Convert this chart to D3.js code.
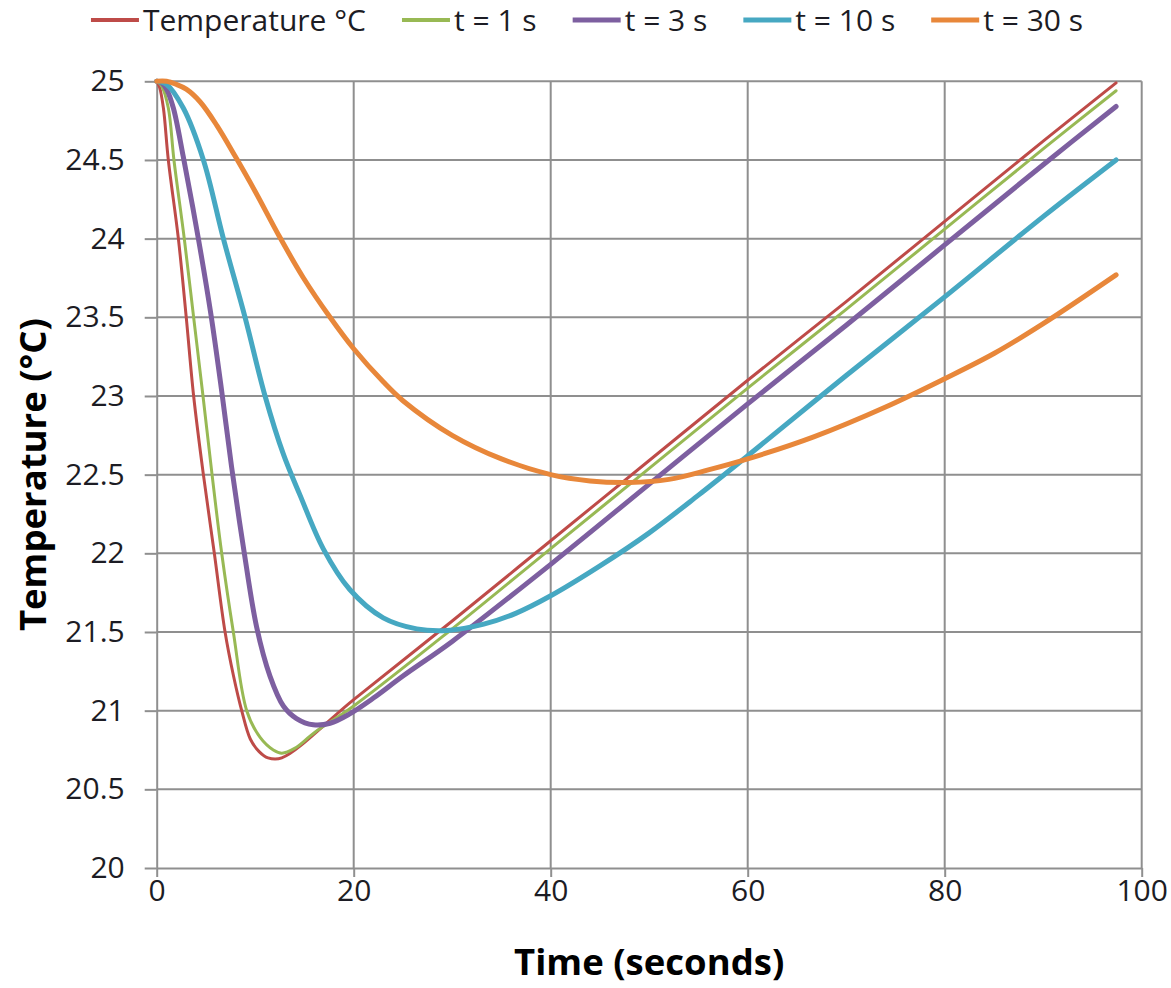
<!DOCTYPE html>
<html><head><meta charset="utf-8">
<script src="https://cdn.jsdelivr.net/npm/d3@7"></script>
<style>body{margin:0;background:#fff} svg{display:block}</style>
</head><body>
<svg id="chart" width="1171" height="988"></svg>
<script>
// ---- data ----
const seriesNames = ["Temperature °C", "t = 1 s", "t = 3 s", "t = 10 s", "t = 30 s"];
const temperature = [[0,25],[0.3,24.96],[0.68,24.83],[1.18,24.5],[2.2,24.0],[3.0,23.5],[3.75,23.0],[4.74,22.5],[5.85,22.0],[6.94,21.5],[7.8,21.22],[8.63,21.0],[9.5,20.82],[10.4,20.74],[11.3,20.7],[12.7,20.7],[20,21.07],[30,21.57],[40,22.08],[50,22.59],[60,23.1],[70,23.6],[80,24.11],[90,24.62],[97.4,24.99]];
const lag1s = [[0,25],[0.5,24.97],[1.18,24.83],[1.75,24.5],[2.8,24.0],[3.75,23.5],[4.7,23.0],[5.62,22.5],[6.6,22.0],[7.78,21.5],[9.14,21.0],[10.5,20.83],[11.84,20.75],[12.7,20.73],[14,20.76],[16,20.86],[20,21.03],[30,21.52],[40,22.03],[50,22.54],[60,23.05],[70,23.55],[80,24.06],[90,24.57],[97.4,24.94]];
const lag3s = [[0,25],[0.5,24.99],[1.0,24.95],[1.69,24.83],[2.7,24.52],[4.23,24.0],[5.5,23.52],[6.6,23.03],[7.6,22.55],[8.8,22.04],[10.15,21.53],[11.5,21.22],[12.86,21.03],[14.2,20.95],[15.9,20.91],[17.6,20.92],[19.6,20.98],[22,21.08],[25,21.22],[30,21.44],[40,21.93],[50,22.44],[60,22.95],[70,23.45],[80,23.96],[90,24.47],[97.4,24.84]];
const lag10s = [[0,25],[1,24.98],[2.7,24.83],[4.74,24.5],[6.77,24.0],[8.97,23.5],[11.0,23.0],[12.86,22.63],[14.55,22.37],[16.9,22.03],[19.6,21.77],[23,21.59],[26.4,21.52],[29.5,21.51],[33.2,21.55],[36.5,21.62],[40,21.73],[45,21.92],[50,22.13],[55,22.37],[60,22.62],[70,23.13],[80,23.63],[90,24.14],[97.4,24.5]];
const lag30s = [[0,25],[1,25],[2,24.98],[3,24.95],[4.4,24.87],[6.1,24.72],[8,24.52],[10,24.3],[12.4,24.02],[14.9,23.75],[17.6,23.5],[20,23.3],[23,23.09],[25,22.97],[30,22.75],[35,22.6],[40,22.5],[44,22.46],[48,22.45],[52,22.47],[56,22.53],[60,22.6],[66.7,22.74],[74,22.93],[80,23.11],[85,23.27],[90,23.46],[97.4,23.77]];
const xTicks = [0, 20, 40, 60, 80, 100];
const yTicks = [20, 20.5, 21, 21.5, 22, 22.5, 23, 23.5, 24, 24.5, 25];

// ---- styling ----
const seriesData = [temperature, lag1s, lag3s, lag10s, lag30s];
const colors = ["#BE4B48", "#98B954", "#7D5FA0", "#46A8C2", "#E8873A"];
const widths = [3, 3, 5, 5, 5];
const FONT = "'Open Sans', Lato, sans-serif";

const svg = d3.select("#chart");
const L = 156.7, R = 1141.7, T = 81.3, B = 868;
const x = d3.scaleLinear().domain([0, 100]).range([L, R]);
const y = d3.scaleLinear().domain([20, 25]).range([B, T]);
const grid = "#8f8f8f";

// gridlines
svg.append("g").selectAll("line").data(yTicks.filter(v => v > 20)).join("line")
  .attr("x1", L).attr("x2", R).attr("y1", d => y(d)).attr("y2", d => y(d))
  .attr("stroke", grid).attr("stroke-width", 2);
svg.append("g").selectAll("line").data(xTicks.filter(v => v > 0)).join("line")
  .attr("x1", d => x(d)).attr("x2", d => x(d)).attr("y1", T).attr("y2", B)
  .attr("stroke", grid).attr("stroke-width", 2);

// axes
const yAxis = svg.append("g").attr("transform", `translate(${L},0)`)
  .call(d3.axisLeft(y).tickValues(yTicks).tickSize(12).tickSizeOuter(0).tickPadding(20).tickFormat(d3.format("")));
const xAxis = svg.append("g").attr("transform", `translate(0,${B})`)
  .call(d3.axisBottom(x).tickValues(xTicks).tickSize(9).tickSizeOuter(0).tickPadding(3));
[yAxis, xAxis].forEach(a => {
  a.select(".domain").attr("stroke", grid).attr("stroke-width", 2);
  a.selectAll(".tick line").attr("stroke", grid).attr("stroke-width", 2);
  a.selectAll("text").attr("font-family", FONT).attr("font-size", 30).attr("fill", "#1c1c24");
});

// lines
const line = d3.line().x(d => x(d[0])).y(d => y(d[1])).curve(d3.curveCatmullRom.alpha(0.5));
svg.append("g").selectAll("path").data(seriesData).join("path")
  .attr("d", line).attr("fill", "none")
  .attr("stroke", (d, i) => colors[i]).attr("stroke-width", (d, i) => widths[i])
  .attr("stroke-linecap", "round").attr("stroke-linejoin", "round");

// axis titles
svg.append("text").attr("x", (L + R) / 2).attr("y", 975).attr("text-anchor", "middle")
  .attr("font-family", FONT).attr("font-weight", "bold").attr("font-size", 36.5).attr("fill", "#000")
  .text("Time (seconds)");
svg.append("text").attr("transform", `translate(46,${(T + B) / 2}) rotate(-90)`).attr("text-anchor", "middle")
  .attr("font-family", FONT).attr("font-weight", "bold").attr("font-size", 36.5).attr("fill", "#000")
  .text("Temperature (°C)");

// legend
const lg = svg.append("g");
const items = lg.selectAll("g").data(seriesNames).join("g");
items.append("line").attr("x1", 0).attr("x2", 48).attr("y1", 0).attr("y2", 0)
  .attr("stroke", (d, i) => colors[i]).attr("stroke-width", (d, i) => Math.max(4, widths[i]));
items.append("text").attr("x", 52).attr("y", 11).attr("font-family", FONT).attr("font-size", 30)
  .attr("fill", "#1c1c24").text(d => d);
let cx = 0; const pos = [];
items.each(function () {
  const w = 52 + d3.select(this).select("text").node().getComputedTextLength();
  pos.push(cx); cx += w + 36;
});
const total = cx - 36, start = 587 - total / 2;
items.attr("transform", (d, i) => `translate(${start + pos[i]},20)`);
</script>
</body></html>
